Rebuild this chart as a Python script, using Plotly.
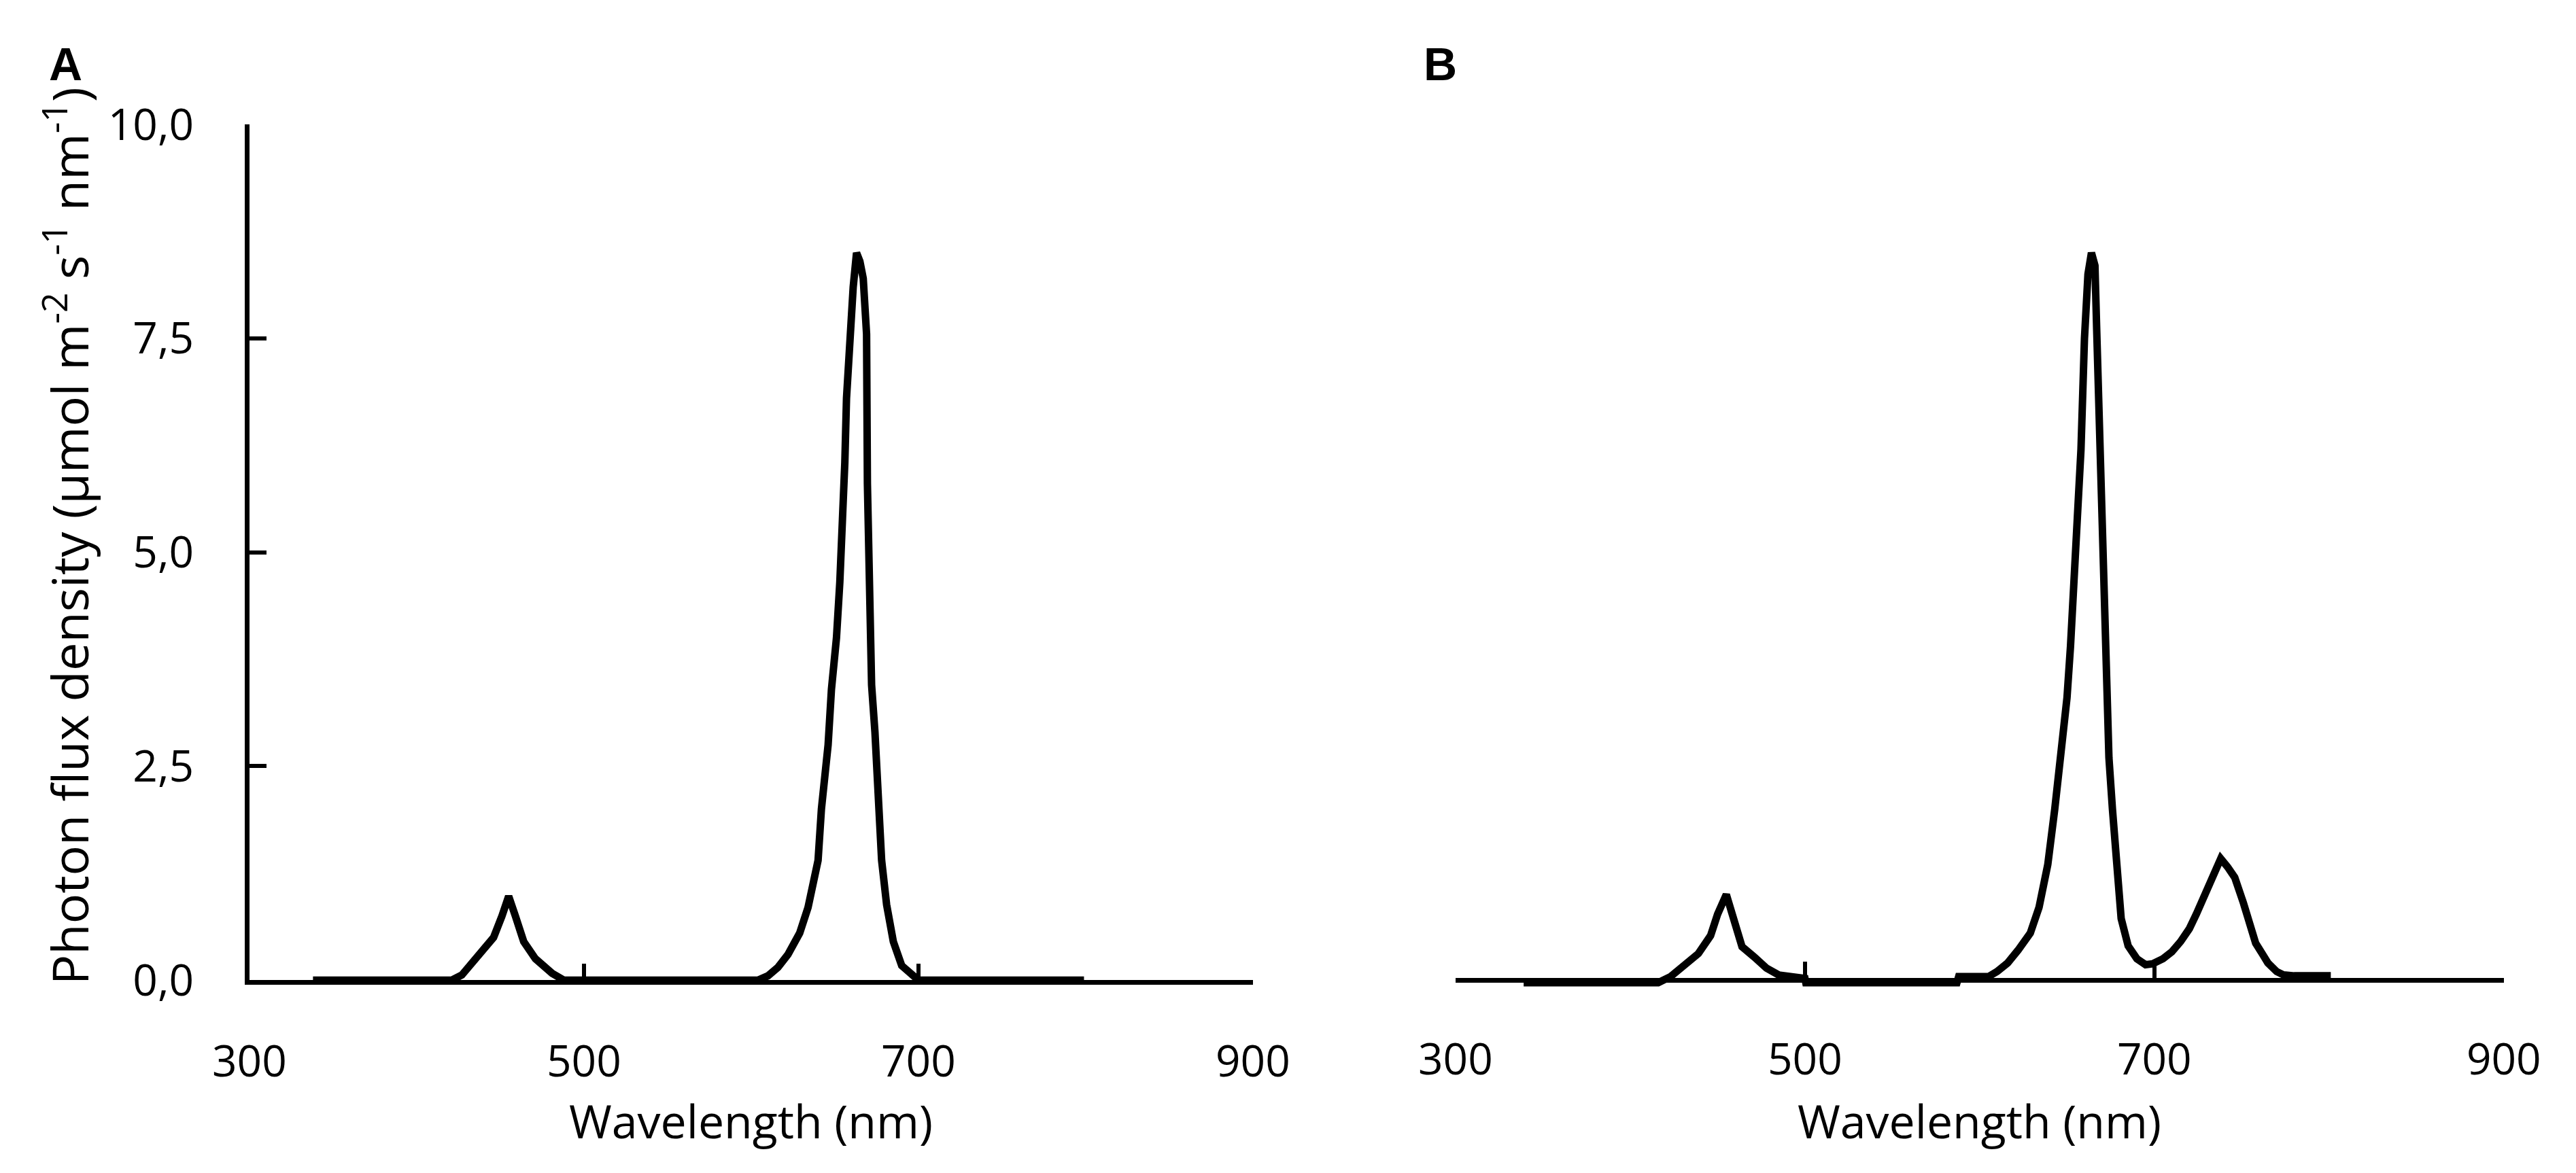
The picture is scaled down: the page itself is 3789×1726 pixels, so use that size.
import plotly.graph_objects as go

# Espectros de LED (leitura aproximada da figura)
wl_a = [338, 380, 421, 427, 433, 440, 446, 451, 455, 459, 464, 471, 481, 488,
        550, 604, 610, 616, 622, 629, 634, 640, 642, 646, 648, 651, 653, 655, 656,
        657, 659, 661, 663, 665, 667, 669, 669.5, 671, 672, 674, 676, 678, 681,
        685, 690, 696, 700, 750, 799]
pfd_a = [0, 0, 0, 0.06, 0.2, 0.35, 0.5, 0.75, 0.98, 0.75, 0.45, 0.25, 0.08, 0,
         0, 0, 0.05, 0.15, 0.3, 0.55, 0.85, 1.4, 2.0, 2.75, 3.4, 4.0, 4.65, 5.35, 6.05,
         6.8, 7.55, 8.1, 8.5, 8.4, 8.2, 7.55, 5.8, 4.4, 3.45, 2.9, 2.1, 1.4, 0.88,
         0.45, 0.17, 0.06, 0, 0, 0]

wl_b = [339, 380, 416, 423, 432, 439, 446, 450, 455, 459, 464, 471, 478, 485, 500,
        500.5, 545, 587, 588, 605, 610, 616, 622, 629, 634, 639, 643, 647, 650, 652,
        654, 656, 658, 660, 662, 664, 666, 667, 668, 670, 672, 674, 676, 678, 681,
        685, 690, 695, 699, 705, 710, 715, 720, 724, 728, 731, 735, 738, 742, 746,
        751, 755, 758, 762, 765, 770, 774, 780, 801]
pfd_b = [-0.03, -0.03, -0.03, 0.04, 0.18, 0.31, 0.52, 0.77, 1.0, 0.72, 0.39, 0.27, 0.14, 0.06, 0.02,
         -0.03, -0.03, -0.03, 0.04, 0.04, 0.1, 0.2, 0.35, 0.55, 0.85, 1.35, 2.0, 2.65, 3.3, 3.9,
         4.6, 5.3, 6.2, 7.5, 8.25, 8.5, 8.35, 7.6, 6.9, 5.0, 3.65, 2.6, 2.0, 1.35, 0.72,
         0.4, 0.25, 0.18, 0.19, 0.25, 0.33, 0.45, 0.6, 0.77, 0.95, 1.1, 1.3, 1.42, 1.32, 1.2,
         0.9, 0.65, 0.43, 0.3, 0.2, 0.1, 0.06, 0.05, 0.05]

x_ticks = [300, 500, 700, 900]
y_ticks = [0, 2.5, 5, 7.5, 10]

fonte = "Open Sans"
preto = "#000000"

fig = go.Figure()
fig.add_trace(go.Scatter(x=wl_a, y=pfd_a, mode="lines", xaxis="x", yaxis="y",
                         line=dict(color=preto, width=11), showlegend=False))
fig.add_trace(go.Scatter(x=wl_b, y=pfd_b, mode="lines", xaxis="x2", yaxis="y2",
                         line=dict(color=preto, width=11), showlegend=False))

eixo_x = dict(range=[300, 900], tickvals=x_ticks, ticks="inside", ticklen=24, tickwidth=6,
              tickcolor=preto, showline=True, linewidth=7, linecolor=preto, showgrid=False,
              zeroline=False, tickfont=dict(family=fonte, size=64, color=preto),
              ticklabelstandoff=58)

fig.update_layout(
    width=3789, height=1726,
    margin=dict(l=0, r=0, t=0, b=0),
    plot_bgcolor="white", paper_bgcolor="white",
    separators=",.",
    xaxis=dict(eixo_x, domain=[0.0826, 0.4838], anchor="y"),
    yaxis=dict(domain=[0.1530, 0.9212], range=[0, 10], tickvals=y_ticks, tickformat=".1f",
               ticks="inside", ticklen=25, tickwidth=6, tickcolor=preto, showline=True,
               linewidth=7, linecolor=preto, showgrid=False, zeroline=False,
               tickfont=dict(family=fonte, size=64, color=preto), ticklabelstandoff=62,
               anchor="x"),
    xaxis2=dict(eixo_x, domain=[0.5648, 0.9839], anchor="free", position=0.1530),
    yaxis2=dict(domain=[0.1300, 0.9212], range=[-0.3, 10], visible=False, anchor="x2"),
)

titulos = [
    dict(text="<b>A</b>", x=0.002, y=1.0, xanchor="left", yanchor="top",
         font=dict(family="Liberation Sans", size=68, color=preto)),
    dict(text="<b>B</b>", x=0.5515, y=1.0, xanchor="left", yanchor="top",
         font=dict(family="Liberation Sans", size=68, color=preto)),
    dict(text="Wavelength (nm)", x=(0.0826 + 0.4838) / 2, y=0.027, xanchor="center", yanchor="middle",
         font=dict(family=fonte, size=68, color=preto)),
    dict(text="Wavelength (nm)", x=(0.5648 + 0.9839) / 2, y=0.027, xanchor="center", yanchor="middle",
         font=dict(family=fonte, size=68, color=preto)),
    dict(text="Photon flux density (µmol m<sup>-2</sup> s<sup>-1</sup> nm<sup>-1</sup>)",
         x=0.0095, y=0.552, xanchor="center", yanchor="middle", textangle=-90,
         font=dict(family=fonte, size=74, color=preto)),
]
for t in titulos:
    t.update(xref="paper", yref="paper", showarrow=False)
fig.update_layout(annotations=titulos)

fig.write_html("out.html")
